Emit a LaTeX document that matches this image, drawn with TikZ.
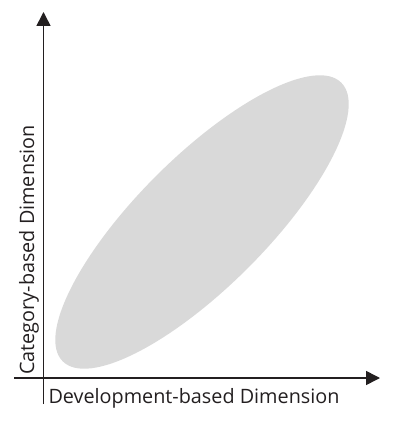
\documentclass[tikz,border=0pt]{standalone}
\usepackage{fontspec}
\setmainfont{Open Sans}
\usetikzlibrary{arrows.meta}
\definecolor{inkdark}{RGB}{35,31,32}
\definecolor{blobgray}{RGB}{217,217,217}
\tikzstyle{axisline}=[line width=1.6pt, draw=inkdark, -{Triangle[length=14pt,width=14pt]}]
\tikzstyle{dimtext}=[inner sep=0pt, text=inkdark, font=\fontsize{19.8}{24}\selectfont]

\begin{document}
\begin{tikzpicture}[x=1pt,y=-1pt]
\useasboundingbox (0,0) rectangle (400,422);
% axes end points
\coordinate (x0) at (14,378);
\coordinate (x1) at (380,378);
\coordinate (y0) at (43.5,404);
\coordinate (y1) at (43.5,12);
% the grey region
\fill[blobgray, rotate around={45:(202,222)}] (202,222) ellipse [x radius=197pt, y radius=65pt];
\draw[axisline] (x0) -- (x1);
\draw[axisline] (y0) -- (y1);
\node[dimtext, anchor=base] (xlab) at (194,403) {Development-based Dimension};
\node[dimtext, anchor=base, rotate=90] (ylab) at (34,250) {Category-based Dimension};
\end{tikzpicture}
\end{document}
